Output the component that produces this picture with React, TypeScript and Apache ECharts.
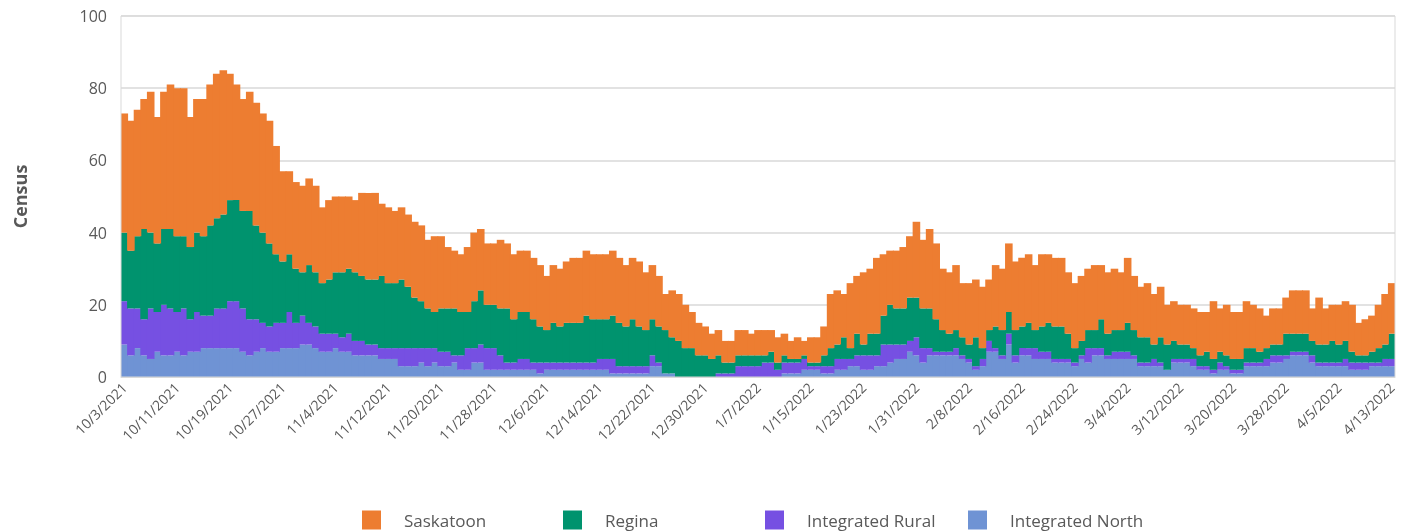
import React, { useEffect, useRef } from "react";
import * as echarts from "echarts";

const START = new Date(2021, 9, 3);
const DAYS = 193;
const categories: string[] = [];
for (let i = 0; i < DAYS; i++) {
  const d = new Date(START.getFullYear(), START.getMonth(), START.getDate() + i);
  categories.push(`${d.getMonth() + 1}/${d.getDate()}/${d.getFullYear()}`);
}

const integratedNorth = [
  9,6,8,6,5,7,6,6,7,6,7,7,8,8,8,8,
  8,8,7,6,7,8,7,7,8,8,8,9,9,8,7,7,
  8,7,7,6,6,6,6,5,5,5,3,3,3,4,3,4,
  3,3,4,2,2,4,4,2,2,2,2,2,2,2,2,1,
  2,2,2,2,2,2,2,2,2,2,1,1,1,1,1,1,3,
  3,1,1,0,0,0,0,0,0,0,0,0,0,0,0,0,
  0,0,0,1,1,1,2,2,2,1,1,2,2,3,3,2,
  2,3,3,4,5,5,7,6,4,6,6,6,6,6,5,4,
  2,3,7,7,5,9,4,6,6,5,5,5,4,4,4,3,5,
  4,6,6,5,5,5,5,5,3,3,3,3,2,4,4,4,
  3,2,2,1,2,2,1,1,3,3,3,3,4,4,5,6,
  6,6,4,3,3,3,3,3,2,2,2,3,3,3,3,
];

const integratedRural = [
  12,13,11,10,14,11,14,13,11,13,9,11,9,9,11,11,
  13,13,12,10,9,7,7,8,7,10,7,8,6,6,5,5,
  4,4,5,4,4,3,3,3,3,3,5,5,5,4,5,4,
  4,4,2,4,6,4,5,6,6,4,2,2,3,3,2,3,
  2,2,2,2,2,2,2,2,3,3,4,2,2,2,2,2,3,
  1,0,0,0,0,0,0,0,0,1,1,1,3,3,3,3,
  4,4,2,3,3,3,3,1,1,2,2,3,3,2,3,4,
  4,3,6,5,4,4,3,5,4,2,1,1,1,2,1,1,
  1,2,3,1,1,3,2,2,2,3,2,2,1,1,1,1,1,
  4,2,2,1,2,2,2,1,1,1,2,1,0,1,1,1,
  2,1,1,1,2,1,1,1,1,1,1,2,2,2,1,1,
  1,1,2,1,1,1,1,2,2,2,2,1,1,2,2,
];

const regina = [
  19,16,20,25,21,19,21,22,21,20,20,22,22,25,25,26,
  28,28,27,30,26,25,23,19,17,16,15,12,16,15,14,15,
  17,18,18,19,18,18,18,20,18,18,19,17,14,13,11,10,
  12,12,13,12,10,13,15,12,12,13,15,12,13,13,12,10,
  9,11,10,11,11,11,13,12,11,11,12,12,11,13,11,10,10,
  10,12,10,10,8,8,6,6,5,5,3,3,3,3,3,3,
  2,3,2,2,1,1,1,1,1,3,5,4,6,3,6,3,
  6,6,8,11,10,10,12,11,11,11,9,6,5,5,5,4,
  8,3,3,6,7,6,7,6,7,5,7,8,9,9,7,4,4,
  5,5,8,6,6,6,8,7,7,7,4,7,7,5,4,4,
  3,3,4,3,3,3,3,3,4,4,3,3,3,3,6,5,
  5,5,4,5,5,6,5,5,3,2,2,3,4,4,7,
];

const saskatoon = [
  33,36,35,36,39,35,38,40,41,41,36,37,38,39,40,40,
  35,32,31,33,34,33,34,30,25,23,24,24,24,24,21,22,
  21,21,20,20,23,24,24,20,21,20,20,20,21,21,19,21,
  20,17,16,16,18,19,17,17,17,19,18,18,17,17,17,17,
  15,16,16,17,18,18,18,18,18,18,18,18,17,17,18,16,15,
  14,10,13,13,12,10,9,8,7,7,6,6,7,7,6,7,
  7,6,7,6,5,6,4,7,7,8,15,15,12,18,16,20,
  18,21,17,15,16,17,17,21,19,22,21,17,17,18,15,17,
  16,17,14,17,17,19,19,19,19,18,20,19,19,19,17,18,18,
  17,18,15,17,17,16,18,15,14,15,14,14,11,11,11,11,
  11,12,11,16,12,14,13,13,13,12,12,9,10,10,10,12,
  12,12,9,13,10,10,11,11,13,9,10,10,12,14,14,
];

const yTicks = { min: 0, max: 100, interval: 20 };

const COLORS: Record<string, string> = {
  Saskatoon: "#ED7D31",
  Regina: "#00936E",
  "Integrated Rural": "#7650E2",
  "Integrated North": "#6F93D4",
};

const FONT = "'Open Sans', 'Noto Sans', sans-serif";
const TEXT = "#595959";

export default function App() {
  const ref = useRef<HTMLDivElement>(null);
  useEffect(() => {
    if (!ref.current) return;
    const chart = echarts.init(ref.current, undefined, { renderer: "svg" });
    const mk = (name: string, data: number[]) => ({
      name,
      type: "bar",
      stack: "total",
      data,
      barWidth: "115%",
      barGap: "-100%",
      itemStyle: { color: COLORS[name] },
      emphasis: { disabled: true },
    });
    const legendPos = [
      { name: "Saskatoon", left: 362 },
      { name: "Regina", left: 563 },
      { name: "Integrated Rural", left: 765 },
      { name: "Integrated North", left: 968 },
    ];
    chart.setOption({
      animation: false,
      textStyle: { fontFamily: FONT },
      grid: {
        left: 121,
        right: 29,
        top: 16,
        bottom: 154,
        show: true,
        borderColor: "#D9D9D9",
        borderWidth: 1,
        z: 10,
      },
      legend: legendPos.map((l) => ({
        data: [{ name: l.name, itemStyle: { color: COLORS[l.name] } }],
        left: l.left,
        top: 510,
        padding: 0,
        itemWidth: 19,
        itemHeight: 19,
        itemGap: 0,
        icon: "rect",
        textStyle: { fontSize: 17, color: TEXT, fontFamily: FONT, padding: [0, 0, 0, 18], lineHeight: 20 },
        selectedMode: false,
      })),
      xAxis: {
        type: "category",
        data: categories,
        boundaryGap: true,
        axisLine: { show: true, lineStyle: { color: "#D9D9D9" } },
        axisTick: { show: false },
        axisLabel: {
          interval: 7,
          rotate: 45,
          fontSize: 14,
          color: TEXT,
          fontFamily: FONT,
          margin: 8,
        },
      },
      yAxis: {
        type: "value",
        min: yTicks.min,
        max: yTicks.max,
        interval: yTicks.interval,
        name: "Census",
        nameLocation: "middle",
        nameGap: 92,
        nameTextStyle: { fontSize: 18, fontWeight: "bold", color: TEXT, fontFamily: FONT },
        axisLine: { show: false },
        axisTick: { show: false },
        axisLabel: { fontSize: 16, color: TEXT, fontFamily: FONT, margin: 14 },
        splitLine: { lineStyle: { color: "#D9D9D9", width: 1.5 } },
      },
      series: [
        mk("Integrated North", integratedNorth),
        mk("Integrated Rural", integratedRural),
        mk("Regina", regina),
        mk("Saskatoon", saskatoon),
      ],
    });
    return () => chart.dispose();
  }, []);
  return (
    <div
      ref={ref}
      style={{ position: "fixed", left: 0, top: 0, width: 1424, height: 531 }}
    />
  );
}
